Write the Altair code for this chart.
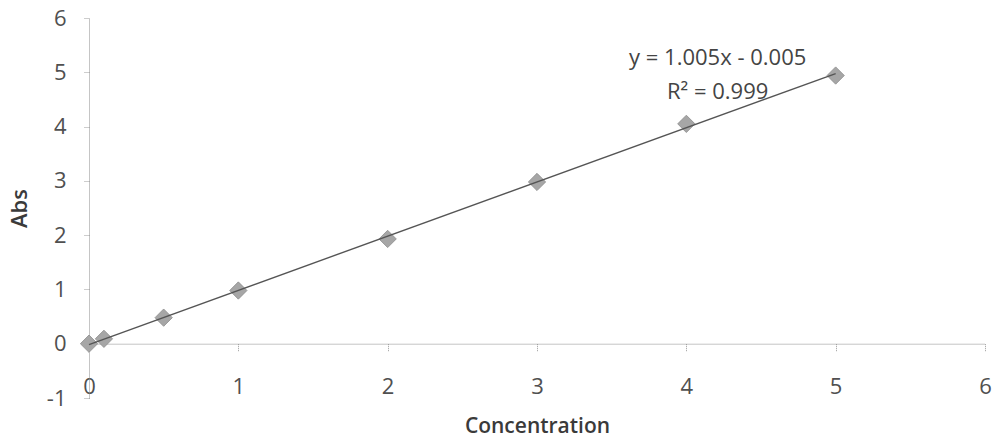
import altair as alt
import pandas as pd

# ---- data ----
concentration = [0, 0.1, 0.5, 1, 2, 3, 4, 5]
absorbance = [0, 0.09, 0.48, 0.98, 1.93, 2.98, 4.05, 4.94]
eq_lines = ["y = 1.005x - 0.005", "R\u00b2 = 0.999"]
eq_x = [4.21, 4.21]
eq_y = [5.26, 4.64]
x_ticks = [0, 1, 2, 3, 4, 5, 6]
y_ticks = [-1, 0, 1, 2, 3, 4, 5, 6]

df = pd.DataFrame({"c": concentration, "a": absorbance})
ann = pd.DataFrame({"label": eq_lines, "c": eq_x, "a": eq_y})

FONT = "Open Sans"
xs = alt.Scale(domain=[0, 6], nice=False, zero=False)
ys = alt.Scale(domain=[-1, 6], nice=False, zero=False)

x_axis = alt.Axis(
    values=x_ticks, offset=-54.3, grid=False, labelFlush=False,
    labelExpr="'' + datum.value",
    domainColor="#8a8a8a", domainDash=[1, 1], domainWidth=1,
    tickColor="#9a9a9a", tickSize=8, tickDash=[1, 1],
    labelFont=FONT, labelFontSize=22, labelColor="#505050", labelPadding=24.5,
    title="Concentration", titleFont=FONT, titleFontSize=21,
    titleFontWeight=600, titleColor="#3a3a3a", titlePadding=18,
)
y_axis = alt.Axis(
    values=y_ticks, grid=False, labelFlush=False,
    labelExpr="'' + datum.value",
    domainColor="#8a8a8a", domainDash=[1, 1], domainWidth=1,
    tickColor="#9a9a9a", tickSize=5, tickDash=[1, 1],
    labelFont=FONT, labelFontSize=22, labelColor="#505050", labelPadding=18,
    title="Abs", titleFont=FONT, titleFontSize=22,
    titleFontWeight=600, titleColor="#3a3a3a", titlePadding=15,
)

points = alt.Chart(df).mark_point(
    shape="diamond", filled=True, size=300, color="#a6a6a6",
    stroke="#8c8c8c", strokeWidth=0.8, opacity=1,
).encode(
    x=alt.X("c:Q", scale=xs, axis=x_axis),
    y=alt.Y("a:Q", scale=ys, axis=y_axis),
)

trend = alt.Chart(df).transform_regression("c", "a").mark_line(
    color="#555555", strokeWidth=1.4,
).encode(
    x=alt.X("c:Q", scale=xs),
    y=alt.Y("a:Q", scale=ys),
)

text = alt.Chart(ann).mark_text(
    font=FONT, fontSize=22, color="#444444", align="center", baseline="middle",
).encode(
    x=alt.X("c:Q", scale=xs),
    y=alt.Y("a:Q", scale=ys),
    text="label:N",
)

chart = alt.layer(points, trend, text).properties(
    width=896, height=380,
    padding={"left": 89, "top": 18, "right": 9, "bottom": 46},
    autosize=alt.AutoSizeParams(type="none"),
    background="white",
).configure_view(stroke=None)

chart.save("out.html", embed_options={"renderer": "svg", "actions": False})
